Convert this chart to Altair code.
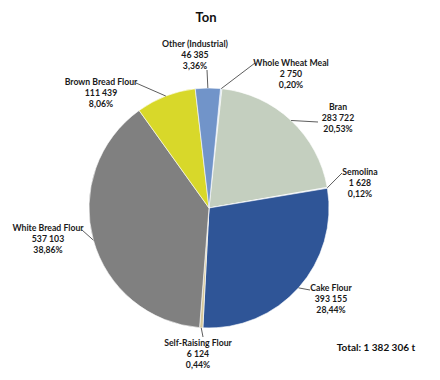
import math
import altair as alt
import pandas as pd

categories = ["Whole Wheat Meal", "Bran", "Semolina", "Cake Flour",
              "Self-Raising Flour", "White Bread Flour", "Brown Bread Flour",
              "Other (Industrial)"]
values = [2750, 283722, 1628, 393155, 6124, 537103, 111439, 46385]
value_labels = ["2 750", "283 722", "1 628", "393 155", "6 124", "537 103",
                "111 439", "46 385"]
pct_labels = ["0,20%", "20,53%", "0,12%", "28,44%", "0,44%", "38,86%",
              "8,06%", "3,36%"]
colors = ["#c5d9f1", "#c4cfbf", "#d9e2ef", "#2f5597", "#d6c89a", "#808080",
          "#d8d82a", "#7194c9"]

# layout (annotation placement only): position of first label line
CX, CY, R = 201, 200, 120
START = math.radians(5.5)
label_pos = [(283, 55), (330, 99), (352, 164), (323, 280), (190, 335),
             (40, 220), (93, 74), (187, 36)]
leader_end = [(247, 55), (310, 114), (334, 165), (302, 282), (195, 329),
              (74, 222), (128, 75), (199, 62)]

total = sum(values)
rows = []
cum = 0
for i, (c, v) in enumerate(zip(categories, values)):
    mid = START + 2 * math.pi * (cum + v / 2) / total
    cum += v
    ax = CX + R * math.sin(mid)
    ay = CY - R * math.cos(mid)
    rows.append({
        "idx": i, "category": c, "value": v,
        "label": f"{c}\n{value_labels[i]}\n{pct_labels[i]}",
        "lx": label_pos[i][0], "ly": label_pos[i][1],
        "ex": leader_end[i][0], "ey": leader_end[i][1],
        "ax": ax, "ay": ay,
    })
df = pd.DataFrame(rows)

arcs = alt.Chart(df).mark_arc(outerRadius=R, stroke="white", strokeWidth=0.6).encode(
    theta=alt.Theta("value:Q", stack=True,
                    scale=alt.Scale(range=[START, START + 2 * math.pi])),
    color=alt.Color("category:N", scale=alt.Scale(domain=categories, range=colors),
                    legend=None),
    order=alt.Order("idx:Q"),
    x=alt.value(CX), y=alt.value(CY),
)

leaders = alt.Chart(df).mark_rule(color="#333333", strokeWidth=0.8).encode(
    x=alt.X("ax:Q", scale=None), y=alt.Y("ay:Q", scale=None),
    x2="ex:Q", y2="ey:Q",
)

labels = alt.Chart(df).mark_text(
    lineBreak="\n", align="center", baseline="middle", font="Lato",
    fontWeight="bold", fontSize=8.7, lineHeight=11, color="#1a1a1a").encode(
    x=alt.X("lx:Q", scale=None), y=alt.Y("ly:Q", scale=None), text="label:N",
)

title = alt.Chart(pd.DataFrame({"t": ["Ton"]})).mark_text(
    font="Lato", fontWeight="bold", fontSize=13, color="#111111").encode(
    x=alt.value(198), y=alt.value(10), text="t:N")

total_txt = alt.Chart(pd.DataFrame({"t": ["Total: 1 382 306 t"]})).mark_text(
    font="Lato", fontWeight="bold", fontSize=10, color="#111111").encode(
    x=alt.value(368), y=alt.value(340), text="t:N")

chart = alt.layer(arcs, leaders, labels, title, total_txt).properties(
    width=424, height=364, autosize="none", padding=0
).configure_view(stroke=None)

chart.save("out.html", embed_options={"renderer": "svg", "actions": False})
